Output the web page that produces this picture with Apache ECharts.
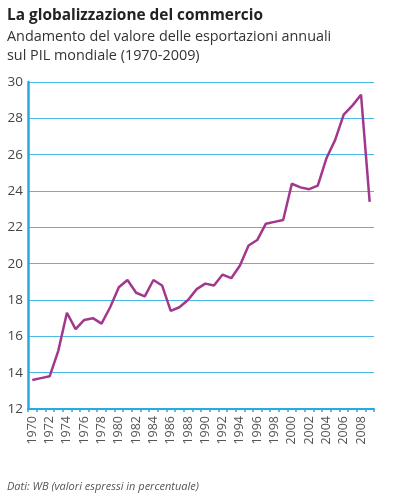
<!DOCTYPE html>
<html><head><meta charset="utf-8">
<script src="https://cdn.jsdelivr.net/npm/echarts@6/dist/echarts.min.js"></script>
<style>html,body{margin:0;padding:0;background:#fff}#c{width:395px;height:500px}</style>
</head><body><div id="c"></div>
<script>
var years = [];
for (var y = 1970; y <= 2009; y++) years.push(String(y));
var values = [13.6,13.7,13.8,15.2,17.3,16.4,16.9,17.0,16.7,17.6,
              18.7,19.1,18.4,18.2,19.1,18.8,17.4,17.6,18.0,18.6,
              18.9,18.8,19.4,19.2,19.9,21.0,21.3,22.2,22.3,22.4,
              24.4,24.2,24.1,24.3,25.8,26.8,28.2,28.7,29.3,23.4];
var titleText = 'La globalizzazione del commercio';
var subText = 'Andamento del valore delle esportazioni annuali\nsul PIL mondiale (1970-2009)';
var sourceText = 'Dati: WB (valori espressi in percentuale)';
var FONT = '"Open Sans", Lato, sans-serif';
var BLUE = '#27a9e1';
var chart = echarts.init(document.getElementById('c'));
chart.setOption({
  animation: false,
  title: [
    {text: titleText, left: 2, top: 3, textStyle: {fontFamily: FONT, fontSize: 15.4, fontWeight: 'bold', color: '#222'}},
    {text: subText, left: 2, top: 22, textStyle: {fontFamily: FONT, fontSize: 14.4, fontWeight: 'normal', color: '#333', lineHeight: 19}},
    {text: sourceText, left: 2, top: 476, textStyle: {fontFamily: FONT, fontSize: 11, fontStyle: 'italic', fontWeight: 'normal', color: '#555'}}
  ],
  grid: {left: 28, right: 21, top: 82, bottom: 91},
  xAxis: {
    type: 'category', data: years, boundaryGap: true,
    axisLine: {lineStyle: {color: BLUE, width: 2}},
    axisTick: {show: true, interval: 0, length: 3, lineStyle: {color: BLUE, width: 1.5}},
    axisLabel: {rotate: 90, interval: 1, fontFamily: FONT, fontSize: 12.5, color: '#555', margin: 7}
  },
  yAxis: {
    type: 'value', min: 12, max: 30, interval: 2,
    axisLine: {show: true, lineStyle: {color: BLUE, width: 2.5}},
    axisTick: {show: false},
    splitLine: {lineStyle: {color: '#4bb9e8', width: 1.2}},
    axisLabel: {fontFamily: FONT, fontSize: 13.5, color: '#444', margin: 5}
  },
  series: [{
    type: 'line', data: values, symbol: 'none',
    lineStyle: {color: '#a2388e', width: 2.5}
  }]
});
</script></body></html>
